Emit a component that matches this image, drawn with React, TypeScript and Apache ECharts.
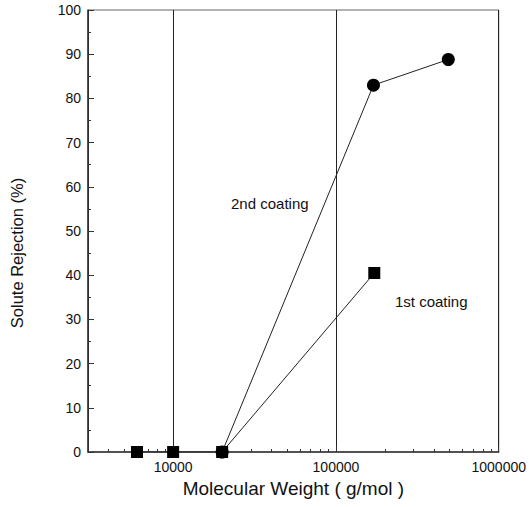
import React, { useEffect, useRef } from "react";
import * as echarts from "echarts";

const coating1: [number, number][] = [
  [6000, 0],
  [10000, 0],
  [20000, 0],
  [172000, 40.5],
];
const coating2: [number, number][] = [
  [20000, 0],
  [170000, 83],
  [490000, 88.8],
];
const xMin = 3000;
const xMax = 1000000;
const yTicks = [0, 10, 20, 30, 40, 50, 60, 70, 80, 90, 100];
const seriesNames = ["1st coating", "2nd coating"];

const FONT = "'Liberation Sans', Arial, sans-serif";

export default function App() {
  const ref = useRef<HTMLDivElement>(null);
  useEffect(() => {
    if (!ref.current) return;
    const chart = echarts.init(ref.current, null, { renderer: "svg" });
    const isPow10 = (v: number) => {
      const l = Math.log10(v);
      return Math.abs(l - Math.round(l)) < 1e-6;
    };
    chart.setOption({
      animation: false,
      backgroundColor: "#fff",
      grid: {
        left: 87,
        right: 28,
        top: 10,
        bottom: 55,
        show: true,
        borderColor: "#666",
        borderWidth: 1,
        backgroundColor: "transparent",
      },
      xAxis: {
        type: "log",
        logBase: 10,
        min: xMin,
        max: xMax,
        name: "Molecular Weight ( g/mol )",
        nameLocation: "middle",
        nameGap: 27,
        nameTextStyle: { fontFamily: FONT, fontSize: 19, color: "#111" },
        axisLine: { lineStyle: { color: "#333", width: 1.5 } },
        axisTick: { show: true, inside: true, length: 6, lineStyle: { color: "#333" } },
        minorTick: { show: true, splitNumber: 9, length: 3, lineStyle: { color: "#333" } },
        axisLabel: {
          fontFamily: FONT,
          fontSize: 14,
          color: "#111",
          margin: 8,
          formatter: (v: number) => (isPow10(v) ? String(Math.round(v)) : ""),
        },
        splitLine: { show: true, lineStyle: { color: "#222", width: 1 } },
      },
      yAxis: {
        type: "value",
        min: 0,
        max: 100,
        interval: 10,
        name: "Solute Rejection (%)",
        nameLocation: "middle",
        nameGap: 63,
        nameTextStyle: { fontFamily: FONT, fontSize: 16.5, color: "#111", padding: [0, 44, 0, 0] },
        axisLine: { show: true, lineStyle: { color: "#333", width: 1.5 } },
        axisTick: { show: true, inside: true, length: 6, lineStyle: { color: "#333" } },
        minorTick: { show: true, splitNumber: 2, length: 3, lineStyle: { color: "#333" } },
        axisLabel: {
          fontFamily: FONT,
          fontSize: 14,
          color: "#111",
          margin: 7,
          formatter: (v: number) => (yTicks.includes(v) ? String(v) : ""),
        },
        splitLine: { show: false },
      },
      series: [
        {
          name: seriesNames[0],
          type: "line",
          data: coating1,
          symbol: "rect",
          symbolSize: 12,
          itemStyle: { color: "#000" },
          lineStyle: { color: "#222", width: 1 },
          z: 3,
        },
        {
          name: seriesNames[1],
          type: "line",
          data: coating2,
          symbol: "circle",
          symbolSize: 13,
          itemStyle: { color: "#000" },
          lineStyle: { color: "#222", width: 1 },
          z: 4,
        },
      ],
      graphic: [
        {
          type: "text",
          left: 231,
          top: 196,
          style: { text: seriesNames[1], font: `15px ${FONT}`, fill: "#111" },
        },
        {
          type: "text",
          left: 395,
          top: 294,
          style: { text: seriesNames[0], font: `15px ${FONT}`, fill: "#111" },
        },
      ],
    });
    return () => chart.dispose();
  }, []);
  return <div ref={ref} style={{ width: 529, height: 507, position: "absolute", left: 0, top: 0 }} />;
}
